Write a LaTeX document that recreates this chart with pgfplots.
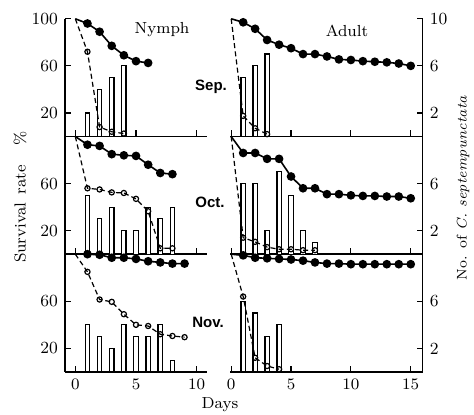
\documentclass[border=0pt]{standalone}
\usepackage{fontspec}
\usepackage{pgfplots}
\pgfplotsset{compat=1.18}
\newfontfamily\hv{Liberation Sans}

\pgfplotsset{
  panel/.style={scale only axis, height=58.85pt, ymin=0, ymax=100, clip=false,
    axis line style={line width=0.7pt, black}, tick style={black, line width=0.6pt},
    major tick length=3pt, tick align=inside,
    ticklabel style={font=\fontsize{8.5}{9}\selectfont},
    xtick={0,5,10,15}},
  leftp/.style={panel, xmin=-0.85, xmax=10.85, width=71pt,
    axis x line*=bottom, axis y line*=left},
  rightp/.style={panel, xmin=-0.1, xmax=16, width=96.35pt,
    axis x line*=bottom, axis y line*=right},
  nox/.style={xticklabels={}},
  bars/.style={ybar, bar width=0.36, fill=white, draw=black, line width=0.6pt},
  full/.style={black, line width=0.8pt, mark=*, mark size=1.75pt},
  open/.style={black, line width=0.6pt, dash pattern=on 2.5pt off 1.6pt, mark=o, mark size=1.3pt,
    mark options={solid, fill=white}, mark indices={2,3,...,16}},
}

\begin{document}
\begin{tikzpicture}
\path[use as bounding box] (0,0) rectangle (237pt,207.5pt);

% ---------- Sep nymph ----------
\begin{axis}[leftp, nox, at={(32.5pt,139.25pt)}, anchor=south west,
  ytick={20,60,100}, yticklabels={20,60,100}]
\addplot[bars] coordinates {(1,20) (2,40) (3,50) (4,60)};
\addplot[open] coordinates {(0,100) (1,72) (2,8) (3,4) (4,2.5)};
\addplot[full] coordinates {(1,96) (2,89) (3,77) (4,69) (5,64) (6,62.5)};
\addplot[black, line width=0.8pt] coordinates {(0,100) (1,96)};
\end{axis}

% ---------- Sep adult ----------
\begin{axis}[rightp, nox, at={(115pt,139.25pt)}, anchor=south west,
  ytick={20,60,100}, yticklabels={2,6,10}]
\addplot[bars] coordinates {(1,50) (2,60) (3,70)};
\addplot[open] coordinates {(0,100) (1,17.5) (2,7) (3,2)};
\addplot[full] coordinates {(1,97) (2,91.5) (3,82) (4,78) (5,75) (6,70) (7,70) (8,68) (9,65.5) (10,65) (11,64) (12,63.5) (13,63) (14,62) (15,60)};
\addplot[black, line width=0.8pt] coordinates {(0,100) (1,97)};
\end{axis}

% ---------- Oct nymph ----------
\begin{axis}[leftp, nox, at={(32.5pt,80.4pt)}, anchor=south west,
  ytick={20,60}, yticklabels={20,60}]
\addplot[bars] coordinates {(1,50) (2,30) (3,40) (4,20) (5,20) (6,40) (7,30) (8,40)};
\addplot[open] coordinates {(0,100) (1,56) (2,55) (3,52.5) (4,52) (5,47) (6,36.5) (7,5) (8,5)};
\addplot[full] coordinates {(1,93) (2,92) (3,85) (4,84) (5,83.5) (6,76) (7,69) (8,68)};
\addplot[black, line width=0.8pt] coordinates {(0,100) (1,93)};
\end{axis}

% ---------- Oct adult ----------
\begin{axis}[rightp, nox, at={(115pt,80.4pt)}, anchor=south west,
  ytick={20,60}, yticklabels={2,6}]
\addplot[bars] coordinates {(1,60) (2,60) (3,20) (4,70) (5,50) (6,20) (7,10)};
\addplot[open] coordinates {(0,100) (1,14) (2,10.5) (3,6) (4,4.2) (5,4.2) (6,3.4) (7,3.4)};
\addplot[full] coordinates {(1,86) (2,86) (3,81) (4,81) (5,66) (6,56) (7,56) (8,51) (9,51) (10,50) (11,49.5) (12,49.5) (13,49) (14,49) (15,47.5)};
\addplot[black, line width=0.8pt] coordinates {(0,100) (1,86)};
\end{axis}

% ---------- Nov nymph ----------
\begin{axis}[leftp, at={(32.5pt,21.55pt)}, anchor=south west,
  ytick={20,60}, yticklabels={20,60}]
\addplot[bars] coordinates {(1,40) (2,30) (3,20) (4,40) (5,30) (6,30) (7,40) (8,10)};
\addplot[open] coordinates {(0,100) (1,85) (2,61.5) (3,59.5) (4,49) (5,40) (6,39) (7,32) (8,30.5) (9,29.5)};
\addplot[full] coordinates {(1,100) (2,99.5) (3,97) (4,97) (5,96) (6,94) (7,93) (8,92) (9,92)};
\end{axis}

% ---------- Nov adult ----------
\begin{axis}[rightp, at={(115pt,21.55pt)}, anchor=south west,
  ytick={20,60}, yticklabels={2,6}]
\addplot[bars] coordinates {(1,60) (2,50) (3,30) (4,40)};
\addplot[open] coordinates {(0,100) (1,64) (2,12) (3,5) (4,2.3)};
\addplot[full] coordinates {(1,99) (2,97) (3,96.5) (4,96) (5,95.5) (6,94.5) (7,93) (8,92) (9,92) (10,91.5) (11,91.5) (12,91.5) (13,91.5) (14,91.5) (15,91.5)};
\addplot[black, line width=0.8pt] coordinates {(0,100) (1,99)};
\end{axis}

% ---------- texts ----------
\node[font=\fontsize{8}{9}\selectfont] at (81pt,192.5pt) {Nymph};
\node[font=\fontsize{8}{9}\selectfont] at (173.5pt,192pt) {Adult};
\node[font=\hv\bfseries\fontsize{7.5}{9}\selectfont] at (105.5pt,164pt) {Sep.};
\node[font=\hv\bfseries\fontsize{7.5}{9}\selectfont] at (105pt,106.5pt) {Oct.};
\node[font=\hv\bfseries\fontsize{7.5}{9}\selectfont] at (104pt,46.5pt) {Nov.};
\node[font=\fontsize{8}{9}\selectfont] at (110pt,5pt) {Days};
\node[font=\fontsize{8}{9}\selectfont, rotate=90] at (10pt,109pt) {Survival\hspace{4pt}rate\hspace{10pt}\%};
\node[font=\fontsize{7}{8}\selectfont, rotate=90] at (231.5pt,113.5pt) {No. of \textit{C. septempunctata}};
\end{tikzpicture}
\end{document}
